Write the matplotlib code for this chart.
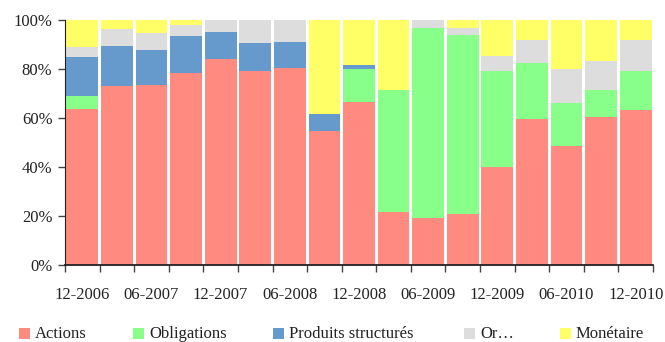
import numpy as np
import matplotlib.pyplot as plt
import matplotlib
from matplotlib.patches import Rectangle

matplotlib.rcParams.update({
    "font.family": ["Liberation Serif", "DejaVu Serif"],
    "axes.spines.top": False,
    "axes.spines.right": False,
})

# ── Data (parts in %) ───────────────────────────────────────────────────────
periods = ["12-2006", "03-2007", "06-2007", "09-2007", "12-2007", "03-2008",
           "06-2008", "09-2008", "12-2008", "03-2009", "06-2009", "09-2009",
           "12-2009", "03-2010", "06-2010", "09-2010", "12-2010"]

actions     = [63.6, 73.0, 73.4, 78.3, 84.0, 79.1, 80.4, 54.6, 66.4, 21.8, 19.0, 21.0, 40.2, 59.5, 48.4, 60.3, 63.2]
obligations = [5.3, 0.0, 0.0, 0.0, 0.0, 0.0, 0.0, 0.0, 13.5, 49.6, 77.7, 72.9, 38.9, 22.9, 17.6, 11.1, 15.9]
produits    = [16.0, 16.4, 14.3, 15.2, 11.1, 11.5, 10.6, 6.9, 1.7, 0.0, 0.0, 0.0, 0.0, 0.0, 0.0, 0.0, 0.0]
or_         = [4.1, 6.9, 7.0, 4.5, 4.9, 9.4, 9.0, 0.0, 0.0, 0.0, 3.3, 3.0, 6.2, 9.4, 13.9, 11.8, 12.7]
monetaire   = [11.0, 3.7, 5.3, 2.0, 0.0, 0.0, 0.0, 38.5, 18.4, 28.6, 0.0, 3.1, 14.7, 8.2, 20.1, 16.8, 8.2]

series_names  = ["Actions", "Obligations", "Produits structurés", "Or…", "Monétaire"]
series_values = [actions, obligations, produits, or_, monetaire]
series_colors = ["#FF8A80", "#88FF88", "#6699CC", "#DDDDDD", "#FFFF66"]

# ── Figure ──────────────────────────────────────────────────────────────────
fig = plt.figure(figsize=(6.65, 3.42), dpi=100)
ax = fig.add_axes([65 / 665, 77 / 342, 588 / 665, 245 / 342])

x = np.arange(len(periods))
bottom = np.zeros(len(periods))
for vals, col in zip(series_values, series_colors):
    vals = np.array(vals)
    ax.bar(x, vals, bottom=bottom, width=0.92, color=col, linewidth=0)
    bottom += vals

ax.set_xlim(-0.5, len(periods) - 0.5)
ax.set_ylim(0, 100)
ax.set_yticks([0, 20, 40, 60, 80, 100])
ax.set_yticklabels([f"{v}%" for v in [0, 20, 40, 60, 80, 100]])

ax.set_xticks(x[::2])
ax.set_xticklabels(periods[::2])
ax.set_xticks(np.arange(-0.5, len(periods), 1), minor=True)
ax.tick_params(axis="x", which="major", length=0, pad=16, labelsize=12, colors="#222222")
ax.tick_params(axis="x", which="minor", length=5, width=1, color="#444444")
ax.tick_params(axis="y", length=5, width=1, color="#444444", labelsize=12, labelcolor="#222222", pad=4)
ax.spines["left"].set_color("#222222")
ax.spines["bottom"].set_color("#222222")
ax.spines["bottom"].set_linewidth(1.3)

# ── Legend (manual, bottom) ─────────────────────────────────────────────────
leg_x = [19, 133, 273, 464, 560]
for name, col, lx in zip(series_names, series_colors, leg_x):
    fig.patches.append(Rectangle((lx / 665, 3 / 342), 11 / 665, 11 / 342,
                                 transform=fig.transFigure, facecolor=col,
                                 edgecolor="none"))
    fig.text((lx + 16) / 665, 8.5 / 342, name, fontsize=12, color="#222222",
             va="center", ha="left")

fig.savefig("out.png", dpi=100)
